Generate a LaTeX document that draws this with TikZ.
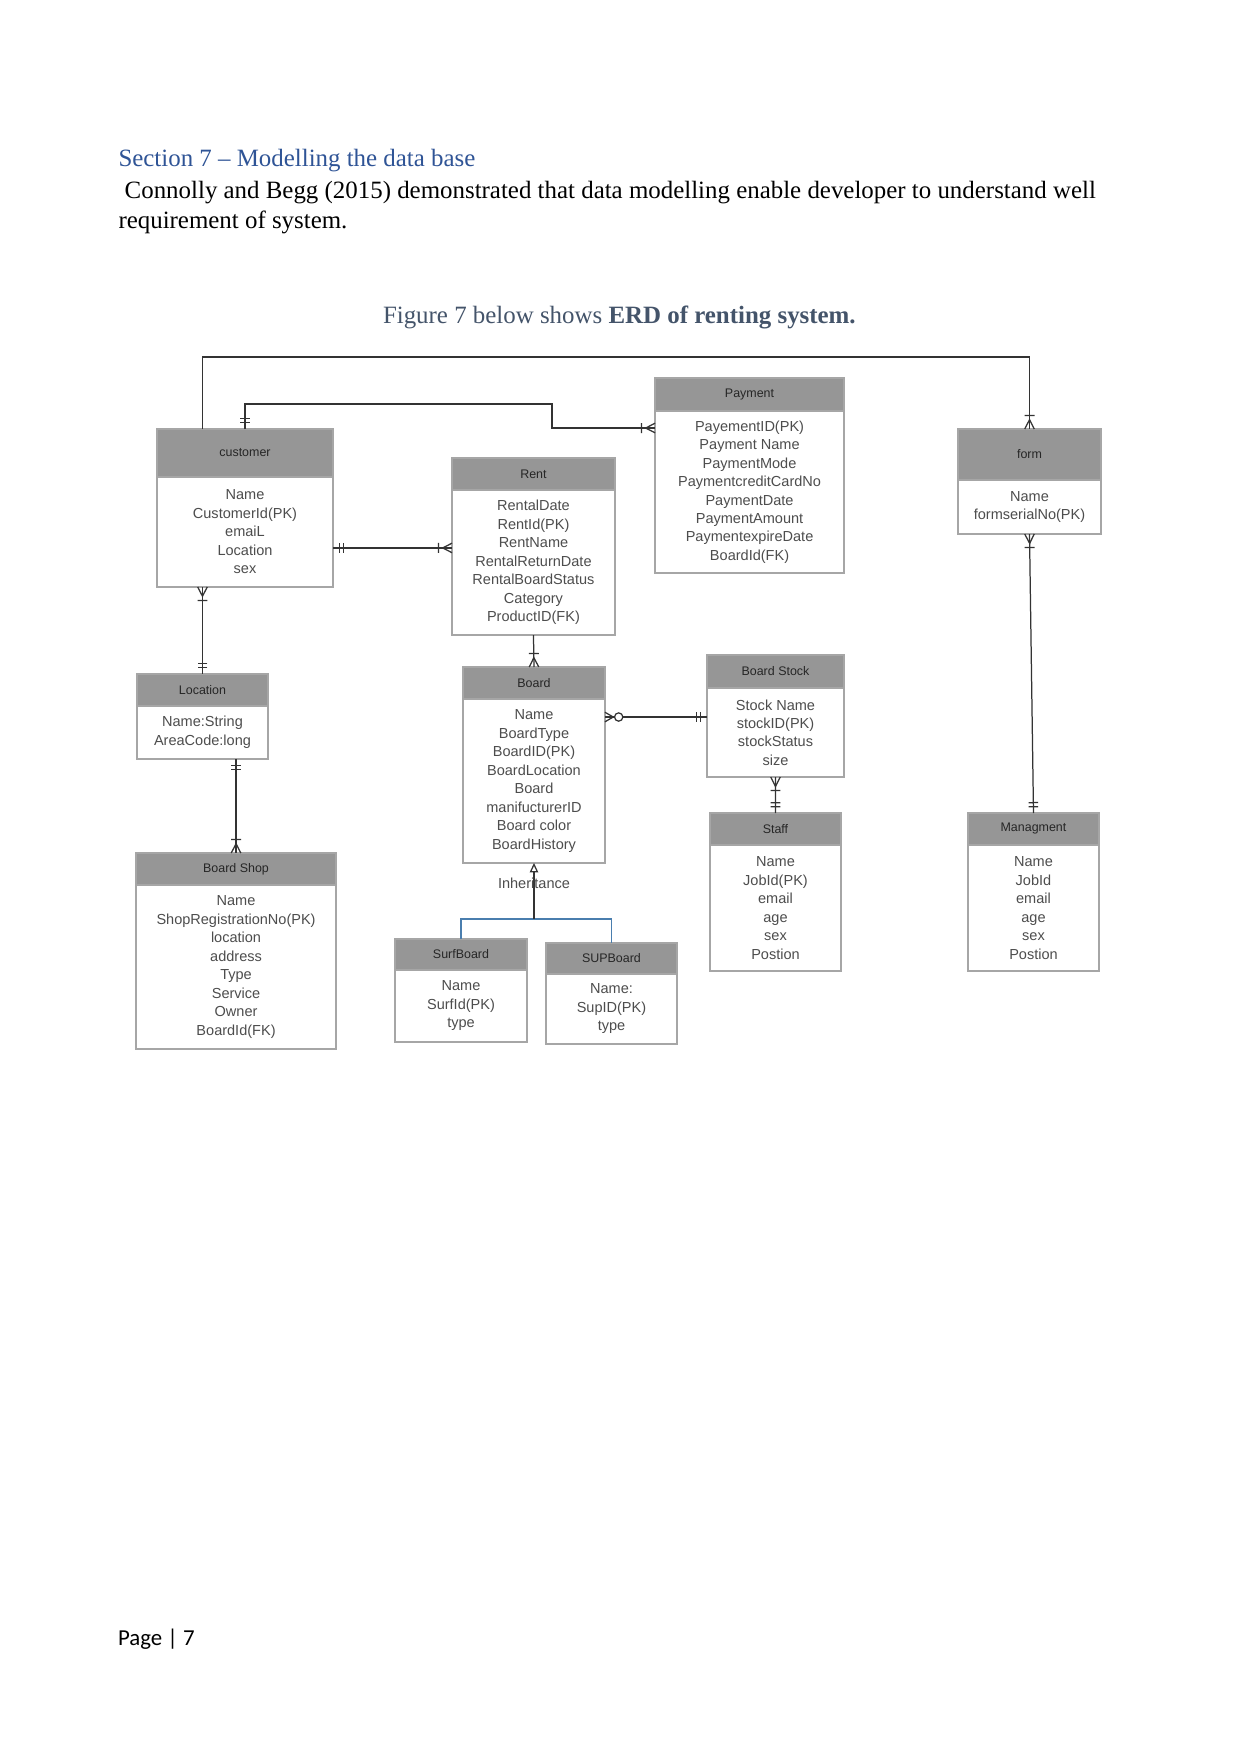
\documentclass[tikz,border=0pt]{standalone}
\usepackage{fontspec}
\setmainfont{Liberation Serif}
\newfontfamily\erfont{Liberation Sans}
\newfontfamily\footfont{Carlito}
\usetikzlibrary{positioning,calc,arrows.meta}

\definecolor{headblue}{HTML}{2F5496}
\definecolor{capgray}{HTML}{44546A}
\definecolor{hdrfill}{HTML}{969696}
\definecolor{boxline}{HTML}{A6A6A6}
\definecolor{attrtxt}{HTML}{4D4D4D}
\definecolor{inhblue}{HTML}{4A7EAE}

% ER end marks
\pgfdeclarearrow{
  name = er one,
  setup code = {
    \pgfarrowssettipend{0pt}
    \pgfarrowssetlineend{0pt}
    \pgfarrowssetbackend{-6pt}
    \pgfarrowssetvisualbackend{-6pt}
    \pgfarrowsupperhullpoint{0pt}{2.3pt}
    \pgfarrowsupperhullpoint{-6pt}{2.3pt}
  },
  drawing code = {
    \pgfpathmoveto{\pgfpoint{-3pt}{2.3pt}}
    \pgfpathlineto{\pgfpoint{-3pt}{-2.3pt}}
    \pgfpathmoveto{\pgfpoint{-5pt}{2.3pt}}
    \pgfpathlineto{\pgfpoint{-5pt}{-2.3pt}}
    \pgfusepathqstroke
  }
}
\pgfdeclarearrow{
  name = er many,
  setup code = {
    \pgfarrowssettipend{0pt}
    \pgfarrowssetlineend{0pt}
    \pgfarrowssetbackend{-7pt}
    \pgfarrowssetvisualbackend{-7pt}
    \pgfarrowsupperhullpoint{0pt}{2.4pt}
    \pgfarrowsupperhullpoint{-7pt}{2.4pt}
  },
  drawing code = {
    \pgfpathmoveto{\pgfpoint{0pt}{2.3pt}}
    \pgfpathlineto{\pgfpoint{-4.5pt}{0pt}}
    \pgfpathlineto{\pgfpoint{0pt}{-2.3pt}}
    \pgfpathmoveto{\pgfpoint{-6.5pt}{2.4pt}}
    \pgfpathlineto{\pgfpoint{-6.5pt}{-2.4pt}}
    \pgfusepathqstroke
  }
}
\pgfdeclarearrow{
  name = er zmany,
  setup code = {
    \pgfarrowssettipend{0pt}
    \pgfarrowssetlineend{0pt}
    \pgfarrowssetbackend{-9pt}
    \pgfarrowssetvisualbackend{-9pt}
    \pgfarrowsupperhullpoint{0pt}{2.4pt}
    \pgfarrowsupperhullpoint{-9pt}{2.4pt}
  },
  drawing code = {
    \pgfpathmoveto{\pgfpoint{0pt}{2.3pt}}
    \pgfpathlineto{\pgfpoint{-4pt}{0pt}}
    \pgfpathlineto{\pgfpoint{0pt}{-2.3pt}}
    \pgfusepathqstroke
    \pgfsetfillcolor{white}
    \pgfpathcircle{\pgfpoint{-6.6pt}{0pt}}{2pt}
    \pgfusepathqfillstroke
  }
}

\begin{document}
\begin{tikzpicture}
  [x=0.4818pt,y=-0.4818pt,
  every node/.style={inner sep=0pt,outer sep=0pt},
  enthead/.style={draw=boxline,fill=hdrfill,line width=0.6pt,anchor=north west,
    font=\erfont\fontsize{6}{7}\selectfont,text=black!85},
  entbody/.style={draw=boxline,fill=white,line width=0.6pt,align=center,below=0pt of #1,
    font=\erfont\fontsize{7}{8.9}\selectfont,text=attrtxt},
  rel/.style={draw=black!80,line width=0.6pt},
  isa/.style={draw=inhblue,line width=0.6pt}]

  \fill[white] (0,0) rectangle (1241,1754);
  \useasboundingbox (0,0) rectangle (1241,1754);

  % page text
  \node[anchor=base west,font=\fontsize{12}{14.4}\selectfont,text=headblue] (sec) at (118.5,167) {Section 7 – Modelling the data base};
  \node[anchor=base west,font=\fontsize{12}{14.4}\selectfont] (intro) at (118.5,198.3) {\hspace*{0.25em}Connolly and Begg (2015) demonstrated that data modelling enable developer to understand well};
  \node[anchor=base west,font=\fontsize{12}{14.4}\selectfont] (intro2) at (118.5,228.3) {requirement of system.};
  \node[anchor=base west,font=\fontsize{12}{14.4}\selectfont,text=capgray] (fig) at (383,324) {Figure 7 below shows \textbf{ERD of renting system.}};
  \node[anchor=base west,font=\footfont\fontsize{11}{13}\selectfont] (pg) at (118,1645) {Page | 7};

  % entities
  \node[enthead,minimum width=84.8pt,minimum height=23.1pt] (cust) at (157,429) {customer};
  \node[entbody=cust,minimum width=84.8pt,minimum height=53pt] (cust-b) {Name\\CustomerId(PK)\\emaiL\\Location\\sex};

  \node[enthead,minimum width=78.5pt,minimum height=15.4pt] (rent) at (452,458) {Rent};
  \node[entbody=rent,minimum width=78.5pt,minimum height=69.9pt] (rent-b) {RentalDate\\RentId(PK)\\RentName\\RentalReturnDate\\RentalBoardStatus\\Category\\ProductID(FK)};

  \node[enthead,minimum width=91.1pt,minimum height=15.9pt] (pay) at (655,378) {Payment};
  \node[entbody=pay,minimum width=91.1pt,minimum height=78.1pt] (pay-b) {PayementID(PK)\\Payment Name\\PaymentMode\\PaymentcreditCardNo\\PaymentDate\\PaymentAmount\\PaymentexpireDate\\BoardId(FK)};

  \node[enthead,minimum width=68.9pt,minimum height=24.6pt] (form) at (958,429) {form};
  \node[entbody=form,minimum width=68.9pt,minimum height=26pt] (form-b) {Name\\formserialNo(PK)};

  \node[enthead,minimum width=63.1pt,minimum height=15.4pt] (loc) at (137,674) {Location};
  \node[entbody=loc,minimum width=63.1pt,minimum height=25.5pt] (loc-b) {Name:String\\AreaCode:long};

  \node[enthead,minimum width=96.4pt,minimum height=15.4pt] (shop) at (136,853) {Board Shop};
  \node[entbody=shop,minimum width=96.4pt,minimum height=79pt] (shop-b) {Name\\ShopRegistrationNo(PK)\\location\\address\\Type\\Service\\Owner\\BoardId(FK)};

  \node[enthead,minimum width=68.4pt,minimum height=15.4pt] (board) at (463,667) {Board};
  \node[entbody=board,minimum width=68.4pt,minimum height=79pt] (board-b) {Name\\BoardType\\BoardID(PK)\\BoardLocation\\Board\\manifucturerID\\Board color\\BoardHistory};

  \node[enthead,minimum width=66pt,minimum height=15.9pt] (stock) at (707,655) {Board Stock};
  \node[entbody=stock,minimum width=66pt,minimum height=42.9pt] (stock-b) {Stock Name\\stockID(PK)\\stockStatus\\size};

  \node[enthead,minimum width=63.1pt,minimum height=15.4pt] (staff) at (710,813) {Staff};
  \node[entbody=staff,minimum width=63.1pt,minimum height=60.7pt] (staff-b) {Name\\JobId(PK)\\email\\age\\sex\\Postion};

  \node[enthead,minimum width=63.1pt,minimum height=15.4pt] (mgmt) at (968,813) {Managment};
  \node[entbody=mgmt,minimum width=63.1pt,minimum height=60.7pt] (mgmt-b) {Name\\JobId\\email\\age\\sex\\Postion};

  \node[enthead,minimum width=63.6pt,minimum height=14.9pt] (surf) at (395,939) {SurfBoard};
  \node[entbody=surf,minimum width=63.6pt,minimum height=34.7pt] (surf-b) {Name\\SurfId(PK)\\type};

  \node[enthead,minimum width=63.1pt,minimum height=14.9pt] (sup) at (546,943) {SUPBoard};
  \node[entbody=sup,minimum width=63.1pt,minimum height=33.7pt] (sup-b) {Name:\\SupID(PK)\\type};

  % relationships
  \draw[rel,-{er many}] (loc.north |- cust.north) -- ++(0,-72) -| (form.north);
  \draw[rel,{er one}-{er many}] (cust.north) |- (552,404) |- ([yshift=-8.2pt]pay-b.north west);
  \draw[rel,{er one}-{er many}] ([yshift=-7.7pt]cust-b.east) -- ([yshift=-7.7pt]cust-b.east -| rent-b.west);
  \draw[rel,{er many}-{er one}] (loc.north |- cust-b.south) -- (loc.north);
  \draw[rel,{er one}-{er many}] (shop.north |- loc-b.south) -- (shop.north);
  \draw[rel,-{er many}] (rent-b.south) -- (board.north);
  \draw[rel,{er zmany}-{er one}] ([yshift=-8.7pt]board-b.north east) -- ([yshift=-8.7pt]board-b.north east -| stock-b.west);
  \draw[rel,{er many}-{er one}] (stock-b.south) -- (staff.north);
  \draw[rel,{er many}-{er one}] (form-b.south) -- (mgmt.north);

  % inheritance
  \coordinate[below=27pt of board-b.south] (inh);
  \draw[isa] (surf.north) |- (inh) -| (sup.north);
  \draw[rel,-{Triangle[open,length=4.5pt,width=4pt]}] (inh) -- (board-b.south);
  \node[font=\erfont\fontsize{7}{8.9}\selectfont,text=attrtxt] (inhlbl) at ([yshift=-9.6pt]board-b.south) {Inheritance};
\end{tikzpicture}
\end{document}
